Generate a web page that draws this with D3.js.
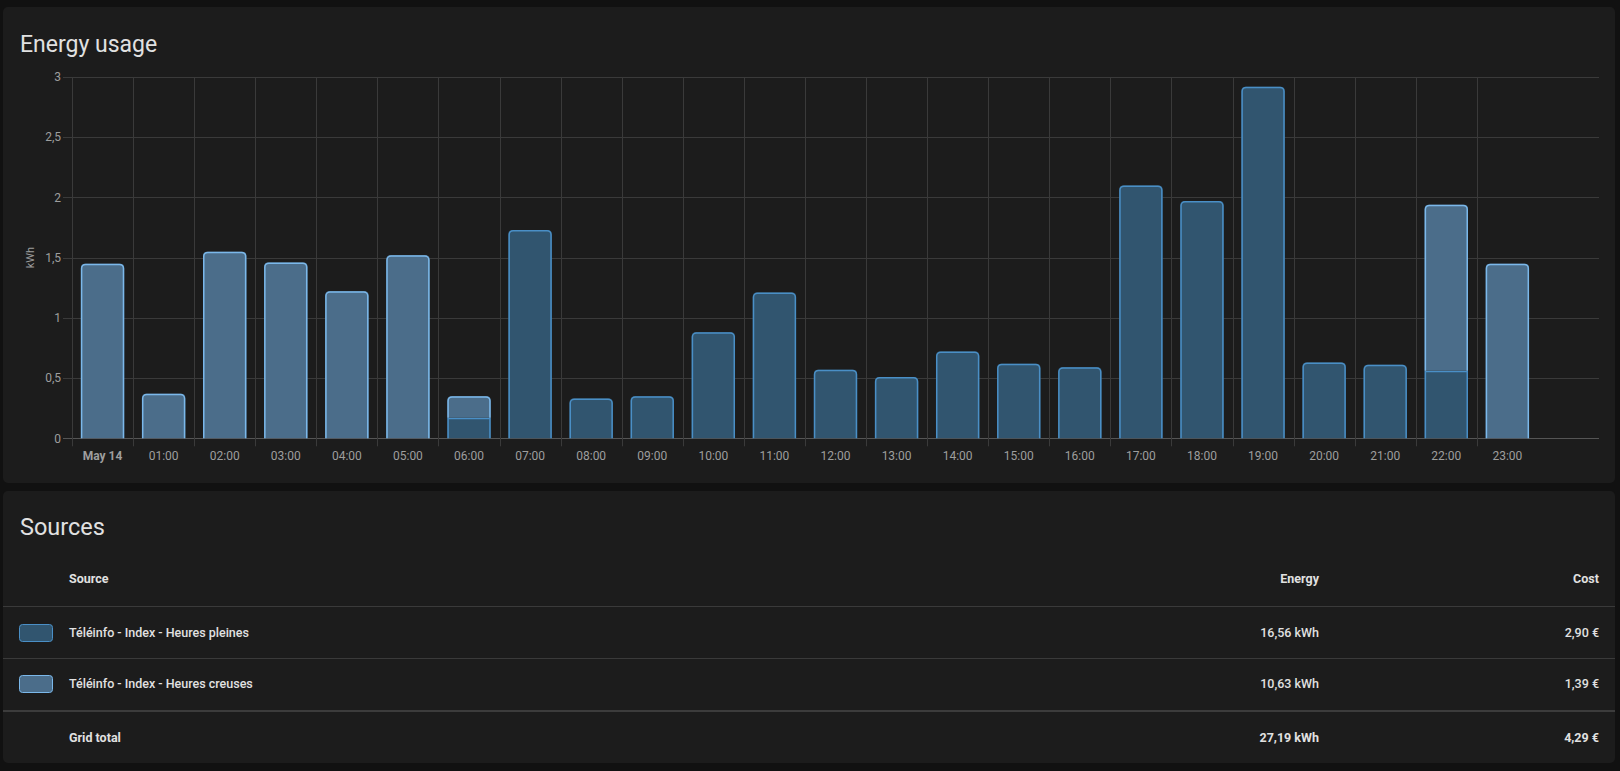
<!DOCTYPE html>
<html lang="fr">
<head>
<meta charset="UTF-8">
<title>Energy usage</title>
<script src="https://cdn.jsdelivr.net/npm/d3@7"></script>
<style>
  html, body { margin: 0; padding: 0; background: #111111; }
  svg { display: block; font-family: Roboto, "Noto Sans", sans-serif; }
</style>
</head>
<body>
<svg id="chart" width="1620" height="771"></svg>
<script>
// hourly categories
var hours = ["May 14", "01:00", "02:00", "03:00", "04:00", "05:00", "06:00", "07:00",
  "08:00", "09:00", "10:00", "11:00", "12:00", "13:00", "14:00", "15:00", "16:00",
  "17:00", "18:00", "19:00", "20:00", "21:00", "22:00", "23:00"];
// kWh per hour
var heuresPleines = [0, 0, 0, 0, 0, 0, 0.17, 1.73, 0.33, 0.35, 0.88, 1.21, 0.57, 0.51,
  0.72, 0.62, 0.59, 2.10, 1.97, 2.92, 0.63, 0.61, 0.56, 0];
var heuresCreuses = [1.45, 0.37, 1.55, 1.46, 1.22, 1.52, 0.18, 0, 0, 0, 0, 0, 0, 0,
  0, 0, 0, 0, 0, 0, 0, 0, 1.38, 1.45];
var yTicks = [0, 0.5, 1, 1.5, 2, 2.5, 3];

// sources table
var sourceNames = ["Téléinfo - Index - Heures pleines", "Téléinfo - Index - Heures creuses"];
var sourceEnergy = [16.56, 10.63];
var sourceCost = [2.90, 1.39];

var seriesKeys = ["pleines", "creuses"];
var fills = { pleines: "#31556f", creuses: "#4b6d8a" };
var strokes = { pleines: "#4a8fc6", creuses: "#7bb8ea" };

var fr = d3.formatLocale({ decimal: ",", thousands: " ", grouping: [3], currency: ["", " €"] });
var fmtTick = fr.format("~g");
var fmt2 = fr.format(".2f");

var svg = d3.select("#chart");

// cards
svg.append("rect").attr("x", 3).attr("y", 7).attr("width", 1612).attr("height", 476)
  .attr("rx", 5).attr("fill", "#1c1c1c");
svg.append("rect").attr("x", 3).attr("y", 491).attr("width", 1612).attr("height", 272)
  .attr("rx", 5).attr("fill", "#1c1c1c");

svg.append("text").attr("x", 20).attr("y", 52).attr("fill", "#e1e1e1")
  .attr("font-size", 23).text("Energy usage");
svg.append("text").attr("x", 20).attr("y", 535).attr("fill", "#e1e1e1")
  .attr("font-size", 23.5).text("Sources");

// scales (one empty band at the right end)
var plotL = 72, plotR = 1599, plotT = 77, plotB = 438.3;
var x = d3.scaleBand().domain(hours.concat([""])).range([plotL, plotR]).padding(0);
var y = d3.scaleLinear().domain([0, 3]).range([plotB, plotT]);

var g = svg.append("g");

// grid
g.selectAll("line.hgrid").data(yTicks).enter().append("line")
  .attr("x1", plotL - 9).attr("x2", plotR)
  .attr("y1", function(d) { return Math.round(y(d)) + 0.5; })
  .attr("y2", function(d) { return Math.round(y(d)) + 0.5; })
  .attr("stroke", function(d) { return d === 0 ? "#555555" : "#3a3a3a"; })
  .attr("stroke-width", 1);
g.selectAll("line.vgrid").data(hours).enter().append("line")
  .attr("x1", function(d) { return Math.round(x(d)) + 0.5; })
  .attr("x2", function(d) { return Math.round(x(d)) + 0.5; })
  .attr("y1", plotT).attr("y2", plotB + 8)
  .attr("stroke", "#3a3a3a").attr("stroke-width", 1);

// y tick labels
g.selectAll("text.ytick").data(yTicks).enter().append("text")
  .attr("x", 61).attr("y", function(d) { return y(d); }).attr("dy", "0.35em")
  .attr("text-anchor", "end").attr("font-size", 12).attr("fill", "#9e9e9e")
  .text(function(d) { return fmtTick(d); });

svg.append("text").attr("transform", "translate(34," + ((plotT + plotB) / 2) + ") rotate(-90)")
  .attr("text-anchor", "middle").attr("font-size", 11).attr("fill", "#9e9e9e").text("kWh");

// x tick labels
g.selectAll("text.xtick").data(hours).enter().append("text")
  .attr("x", function(d) { return x(d) + x.bandwidth() / 2; }).attr("y", 460)
  .attr("text-anchor", "middle").attr("font-size", 12).attr("fill", "#9e9e9e")
  .attr("font-weight", function(d, i) { return i === 0 ? 700 : 400; })
  .text(function(d) { return d; });

// stacked bars
var rows = hours.map(function(h, i) {
  return { hour: h, pleines: heuresPleines[i], creuses: heuresCreuses[i] };
});
var stacked = d3.stack().keys(seriesKeys)(rows);
var bw = x.bandwidth() * 0.71;

function barShape(x0, x1, y0, y1, r, closed) {
  var p = d3.path();
  r = Math.min(r, (y0 - y1), (x1 - x0) / 2);
  p.moveTo(x0, y0);
  p.lineTo(x0, y1 + r);
  if (r > 0) p.arcTo(x0, y1, x0 + r, y1, r);
  p.lineTo(x1 - r, y1);
  if (r > 0) p.arcTo(x1, y1, x1, y1 + r, r);
  p.lineTo(x1, y0);
  if (closed) p.closePath();
  return p.toString();
}

stacked.forEach(function(layer) {
  var key = layer.key;
  var ki = seriesKeys.indexOf(key);
  var segs = layer.map(function(d, i) {
    var isTop = true;
    for (var k = ki + 1; k < seriesKeys.length; k++) {
      if (rows[i][seriesKeys[k]] > 0) isTop = false;
    }
    return { hour: hours[i], v0: d[0], v1: d[1], top: isTop };
  }).filter(function(s) { return s.v1 - s.v0 > 0; });

  var sg = g.append("g");
  sg.selectAll("path.fill").data(segs).enter().append("path")
    .attr("d", function(s) {
      var cx = x(s.hour) + x.bandwidth() / 2;
      return barShape(cx - bw / 2, cx + bw / 2, y(s.v0), y(s.v1), s.top ? 4 : 0, true);
    })
    .attr("fill", fills[key]);
  sg.selectAll("path.edge").data(segs).enter().append("path")
    .attr("d", function(s) {
      var cx = x(s.hour) + x.bandwidth() / 2;
      return barShape(cx - bw / 2 + 0.75, cx + bw / 2 - 0.75, y(s.v0), y(s.v1) + 0.75, s.top ? 4 : 0, false);
    })
    .attr("fill", "none").attr("stroke", strokes[key]).attr("stroke-width", 1.5);
});

// sources table
var tbl = svg.append("g").attr("font-size", 12.5).attr("fill", "#e1e1e1");
var colName = 69, colEnergy = 1319, colCost = 1599;

tbl.append("text").attr("x", colName).attr("y", 583).attr("font-weight", 700).text("Source");
tbl.append("text").attr("x", colEnergy).attr("y", 583).attr("font-weight", 700)
  .attr("text-anchor", "end").text("Energy");
tbl.append("text").attr("x", colCost).attr("y", 583).attr("font-weight", 700)
  .attr("text-anchor", "end").text("Cost");

var lines = [606.5, 658.5];
tbl.selectAll("line.row").data(lines).enter().append("line")
  .attr("x1", 3).attr("x2", 1615).attr("y1", function(d) { return d; }).attr("y2", function(d) { return d; })
  .attr("stroke", "#3a3a3a").attr("stroke-width", 1);
tbl.append("line").attr("x1", 3).attr("x2", 1615).attr("y1", 711).attr("y2", 711)
  .attr("stroke", "#3c3c3c").attr("stroke-width", 2);

var rowY = [637, 688];
sourceNames.forEach(function(name, i) {
  var key = seriesKeys[i];
  tbl.append("rect").attr("x", 19.5).attr("y", rowY[i] - 12.5).attr("width", 33).attr("height", 17)
    .attr("rx", 3).attr("fill", fills[key]).attr("stroke", strokes[key]).attr("stroke-width", 1);
  tbl.append("text").attr("x", colName).attr("y", rowY[i]).attr("font-weight", 500).text(name);
  tbl.append("text").attr("x", colEnergy).attr("y", rowY[i]).attr("font-weight", 500)
    .attr("text-anchor", "end").text(fmt2(sourceEnergy[i]) + " kWh");
  tbl.append("text").attr("x", colCost).attr("y", rowY[i]).attr("font-weight", 500)
    .attr("text-anchor", "end").text(fmt2(sourceCost[i]) + " €");
});

tbl.append("text").attr("x", colName).attr("y", 742).attr("font-weight", 700).text("Grid total");
tbl.append("text").attr("x", colEnergy).attr("y", 742).attr("font-weight", 700)
  .attr("text-anchor", "end").text(fmt2(d3.sum(sourceEnergy)) + " kWh");
tbl.append("text").attr("x", colCost).attr("y", 742).attr("font-weight", 700)
  .attr("text-anchor", "end").text(fmt2(d3.sum(sourceCost)) + " €");
</script>
</body>
</html>
